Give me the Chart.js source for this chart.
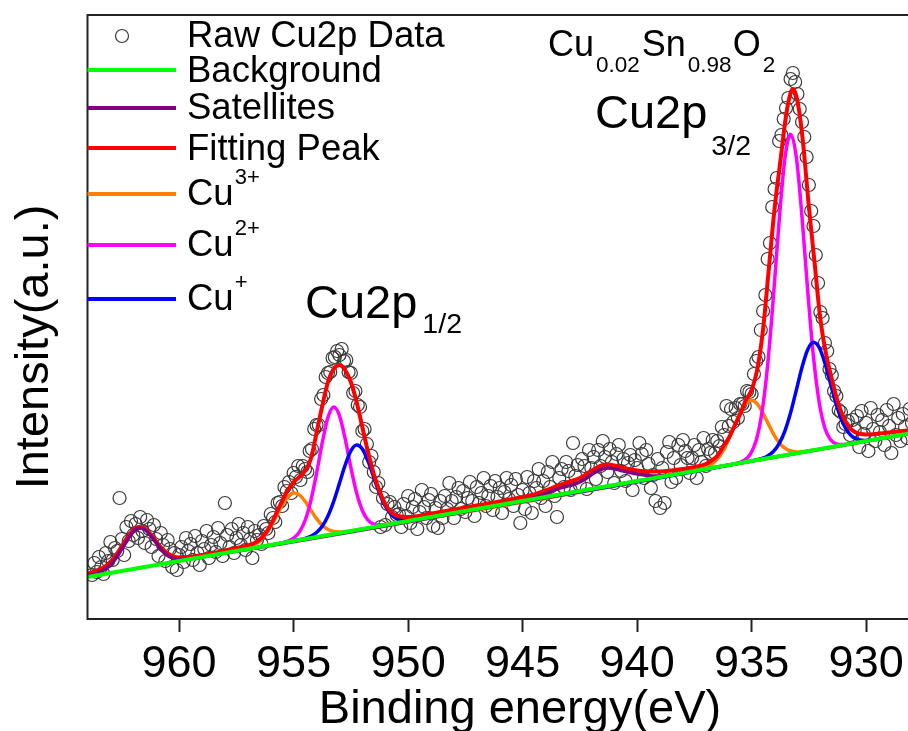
<!DOCTYPE html>
<html>
<head>
<meta charset="utf-8">
<script src="https://cdn.jsdelivr.net/npm/chart.js@4.4.1/dist/chart.umd.min.js"></script>
<style>
  html, body { margin: 0; padding: 0; background: #fff; overflow: hidden; }
  #wrap { width: 908px; height: 731px; overflow: hidden; }
  canvas { display: block; }
</style>
</head>
<body>
<div id="wrap"><canvas id="xps" width="940" height="731"></canvas></div>
<script>
// ===============================
// DATA (binding energy in eV, intensity in a.u.)
// ===============================
const bgEnergy = [964, 927.5];
const bgCounts = [42, 188];

const satEnergy = [964, 963.75, 963.5, 963.25, 963, 962.75, 962.5, 962.25, 962, 961.75, 961.5, 961.25, 961, 960.75, 960.5, 960.25, 960, 959.75, 959.5, 959,
  945.25, 945, 944.75, 944.5, 944.25, 944, 943.75, 943.5, 943.25, 943, 942.75, 942.5, 942.25, 942, 941.75, 941.5, 941.25, 941, 940.75, 940.5,
  940.25, 940, 939.75, 939.5, 939.25, 939, 938.75, 938.5, 938, 927.5];
const satCounts = [43, 44.5, 46.5, 49.5, 54, 61, 70, 79.5, 87.5, 91, 89.5, 83.5, 76, 68.5, 63.5, 60.5, 59.5, 59.5, 60.2, 62,
  117, 118.2, 119.5, 121.1, 123, 125.3, 127.7, 129.8, 131.6, 133.1, 134.7, 137.1, 140.3, 144.3, 147.9, 150.3, 151, 150.3, 148.8, 147.4,
  146.1, 145.1, 144.2, 143.5, 143, 143.1, 143.5, 144.2, 146, 188];

const fitEnergy = [964, 963.75, 963.5, 963.25, 963, 962.75, 962.5, 962.25, 962, 961.75, 961.5, 961.25, 961, 960.75, 960.5, 960.25, 960, 959.5, 959, 958.5,
  958, 957.5, 957, 956.75, 956.5, 956.25, 956, 955.75, 955.5, 955.25, 955, 954.75, 954.5, 954.25, 954, 953.75, 953.5, 953.25, 953, 952.75,
  952.5, 952.25, 952, 951.75, 951.5, 951.25, 951, 950.75, 950.5, 950, 949, 948, 947, 946, 945, 944.5, 944, 943.5, 943, 942.5,
  942, 941.75, 941.5, 941.25, 941, 940.5, 940, 939.5, 939, 938.5, 938, 937.5, 937, 936.75, 936.5, 936.25, 936, 935.75, 935.5, 935.25,
  935, 934.75, 934.5, 934.25, 934, 933.75, 933.5, 933.3, 933.2, 933.05, 932.9, 932.75, 932.5, 932.25, 932, 931.75, 931.5, 931.25, 931, 930.75,
  930.5, 930, 929, 928, 927.5];
const fitCounts = [45, 47, 49, 52, 57, 64, 73, 82, 89, 92, 90.5, 85, 77.5, 70.5, 65.5, 62.5, 61.5, 62, 64, 66,
  68.5, 71, 73.5, 75.5, 79, 85, 94, 106, 118, 129, 137, 142, 148, 160, 186, 213, 237, 250, 254, 249,
  237, 217, 192, 167, 145, 128, 115, 107, 103.5, 102, 105.5, 109.5, 113.5, 117.5, 122, 124.5, 128.5, 133, 137, 141,
  148, 151.5, 154, 154.5, 153.5, 150.5, 148.5, 147.5, 147.5, 148.5, 150, 152, 155, 158.5, 163, 172, 181, 193, 205, 219,
  229, 250, 290, 350, 410, 457, 503, 526, 530, 523, 504, 475, 412, 356, 300, 265, 240, 218, 202, 192,
  187, 184.5, 186.5, 189, 190.5];

const cu3Energy = [957.75, 957.5, 957.25, 957, 956.75, 956.5, 956.25, 956, 955.75, 955.5, 955.25, 955, 954.75, 954.5, 954.25, 954, 953.75, 953.5, 953.25, 953, 952.75, 952.5, 952.25,
  937.55, 937.3, 937.05, 936.8, 936.55, 936.3, 936.05, 935.8, 935.55, 935.3, 935.05, 934.8, 934.55, 934.3, 934.05, 933.8, 933.55, 933.3, 933.05, 932.8, 932.55, 932.3];
const cu3Counts = [67, 68.1, 69.4, 71, 73.5, 77.5, 83.7, 92.4, 103, 113.8, 122.2, 126, 124.2, 117.8, 109, 100.4, 93.7, 89.5, 87.5, 87, 87.4, 88.1, 89,
  148, 149.3, 151.1, 154, 158.8, 166.4, 177.2, 190.4, 203.8, 214.3, 218.8, 216.3, 207.8, 196.4, 185.2, 176.4, 170.8, 168, 167.1, 167.3, 168, 168.8];

const cu2Energy = [956, 955.75, 955.5, 955.25, 955, 954.75, 954.5, 954.25, 954, 953.75, 953.5, 953.25, 953, 952.75, 952.5, 952.25, 952, 951.75, 951.5, 951.25, 951, 950.75, 950.5,
  936.05, 935.8, 935.55, 935.3, 935.05, 934.8, 934.55, 934.3, 934.05, 933.8, 933.55, 933.3, 933.05, 932.8, 932.55, 932.3, 932.05, 931.8, 931.55, 931.3, 931.05, 930.8, 930.55];
const cu2Counts = [74, 75.1, 76.3, 77.9, 80.9, 86.9, 98.5, 118.1, 145.5, 176.3, 201.6, 212, 203.6, 180.3, 151.5, 126.1, 108.5, 98.9, 94.9, 93.9, 94.3, 95.1, 96,
  153.8, 154.9, 156.4, 159.1, 165.2, 178.8, 206.5, 254.2, 321.8, 398, 460.1, 484.8, 462.1, 402, 327.8, 262.2, 216.5, 190.8, 179.2, 175.1, 174.4, 174.9, 175.8];

const cu1Energy = [955, 954.75, 954.5, 954.25, 954, 953.75, 953.5, 953.25, 953, 952.75, 952.5, 952.25, 952, 951.75, 951.5, 951.25, 951, 950.75, 950.5, 950.25, 950, 949.75, 949.5,
  935.05, 934.8, 934.55, 934.3, 934.05, 933.8, 933.55, 933.3, 933.05, 932.8, 932.55, 932.3, 932.05, 931.8, 931.55, 931.3, 931.05, 930.8, 930.55, 930.3, 930.05, 929.8, 929.55];
const cu1Counts = [78.1, 79.2, 80.7, 82.8, 86.5, 92.8, 103, 117.6, 135.6, 153.9, 168.1, 174, 170.1, 157.9, 141.6, 125.6, 113, 104.8, 100.5, 98.8, 98.7, 99.2, 100.1,
  157.9, 159.1, 160.6, 163.1, 167.5, 175.3, 187.9, 206.2, 228.8, 251.8, 269.5, 276.8, 271.5, 255.8, 234.8, 214.2, 197.9, 187.3, 181.5, 179.1, 178.6, 179.1, 179.9];

// raw scan: 963.8 eV down to 928.0 eV, 0.1 eV per point
const rawStart = 963.8;
const rawStep = 0.1;
const rawCounts = [
  44, 56, 47, 62, 52, 45, 66, 58, 77, 59, 71, 68, 121, 80, 64, 92, 78, 98, 84, 95, 81, 102, 88, 76, 99, 90, 72, 94, 80, 63, 86, 74, 58, 79, 70, 52, 66, 49, 64, 72, 57, 81, 68,
  75, 59, 83, 66, 54, 78, 70, 88, 61, 74, 82, 67, 91, 76, 63, 116, 84, 72, 90, 66, 81, 95, 74, 86, 69, 92, 80, 61, 88, 79,
  84, 75, 93, 90, 86, 105, 101, 97, 116, 117, 113, 132, 128, 137, 126, 146, 142, 153, 139, 153, 150, 147, 168, 170, 190, 194, 194, 220, 224, 242,
  246, 247, 261, 262, 268, 264, 270, 258, 259, 247, 246, 226, 228, 214, 212, 188, 190, 175, 157, 163, 147, 132, 136, 92, 121, 94, 115, 117, 102, 112, 104,
  105, 92, 115, 103, 123, 96, 112, 120, 90, 107, 129, 112, 101, 119, 125, 93, 111, 91, 118, 101, 123, 110, 136, 118, 101, 122, 131,
  110, 128, 107, 121, 137, 118, 103, 132, 116, 126, 141, 113, 123, 133, 109, 138, 122, 131, 106, 127, 141, 120, 134, 113, 140, 124, 96,
  129, 110, 142, 126, 106, 138, 131, 150, 121, 138, 113, 147, 132, 157, 123, 102, 141, 150, 132, 157, 148, 129, 176, 143, 154, 134, 160, 153, 130, 169, 151, 162, 140,
  169, 153, 178, 162, 147, 170, 157, 136, 165, 174, 148, 160, 138, 156, 164, 129, 159, 151, 176, 165, 141, 169, 155, 131, 144, 118, 160, 111, 151, 116, 167, 177, 137,
  161, 141, 174, 154, 179, 168, 161, 146, 161, 174, 141, 169, 157, 181, 153, 170, 166, 179, 166,
  178, 173, 192, 184, 213, 193, 210, 197, 211, 201, 215, 215, 213, 228, 227, 225,
  245, 258, 262, 289, 308, 324, 360, 376, 412, 430, 441, 478, 484, 500, 511, 521,
  540, 546, 537, 525,
  510, 497, 482, 462, 434, 408, 393, 364, 336, 307, 301, 276, 268, 250, 244, 228, 223, 209, 207, 192, 195, 198, 184, 199, 189,
  203, 172, 208, 185, 196, 168, 211, 190, 178, 204, 187, 199, 174, 209, 193, 166, 215, 184, 201, 178, 205, 192, 181, 210, 196
];

const FONT = "'Liberation Sans', Arial, Helvetica, sans-serif";

const pairs = (xs, ys) => xs.map((x, i) => ({ x, y: ys[i] }));

const curve = (label, xs, ys, color, width, order, sup) => ({
  label,
  sup,
  data: pairs(xs, ys),
  showLine: true,
  borderColor: color,
  backgroundColor: color,
  borderWidth: width,
  pointRadius: 0,
  pointHoverRadius: 0,
  cubicInterpolationMode: "monotone",
  fill: false,
  order
});

const rawPoints = rawCounts.map((y, i) => ({ x: +(rawStart - i * rawStep).toFixed(1), y }));

// legend order = dataset order; "order" only sets what is painted on top
const datasets = [
  {
    label: "Raw Cu2p Data",
    data: rawPoints,
    showLine: false,
    pointStyle: "circle",
    pointRadius: 6.5,
    pointHoverRadius: 6.5,
    pointBorderWidth: 1.2,
    pointBorderColor: "#3a3a3a",
    pointBackgroundColor: "rgba(255,255,255,0)",
    order: 6
  },
  curve("Background", bgEnergy, bgCounts, "#00ff00", 4, 0),
  curve("Satellites", satEnergy, satCounts, "#800080", 3.5, 1),
  curve("Fitting Peak", fitEnergy, fitCounts, "#ff0000", 4, 2),
  curve("Cu", cu3Energy, cu3Counts, "#ff8000", 3.5, 5, "3+"),
  curve("Cu", cu2Energy, cu2Counts, "#ff00ff", 3.5, 4, "2+"),
  curve("Cu", cu1Energy, cu1Counts, "#0000ff", 3.5, 3, "+")
];

// ===============================
// TEXT HELPERS
// ===============================
function drawRuns(ctx, x, y, runs) {
  runs.forEach(([text, size, dy, gap]) => {
    ctx.font = `${size}px ${FONT}`;
    ctx.fillText(text, x, y + dy);
    x += ctx.measureText(text).width + (gap || 0);
  });
}

// frame, axis titles, labels, legend
const decorations = {
  id: "decorations",
  afterDraw(chart) {
    const { ctx, chartArea: a } = chart;
    ctx.save();

    // frame (right side falls outside the visible page)
    ctx.strokeStyle = "#222";
    ctx.lineWidth = 2;
    ctx.strokeRect(a.left, a.top, a.right - a.left, a.bottom - a.top);

    ctx.fillStyle = "#000";
    ctx.textAlign = "left";
    ctx.textBaseline = "alphabetic";

    // x title
    ctx.font = `47px ${FONT}`;
    ctx.textAlign = "center";
    ctx.fillText("Binding energy(eV)", 520, 723);

    // y title
    ctx.save();
    ctx.translate(48, 347);
    ctx.rotate(-Math.PI / 2);
    ctx.fillText("Intensity(a.u.)", 0, 0);
    ctx.restore();

    ctx.textAlign = "left";

    // sample formula and peak labels
    drawRuns(ctx, 548, 56, [["Cu", 36, 0, 2], ["0.02", 22.5, 16, 2], ["Sn", 36, 0, 2], ["0.98", 22.5, 16, 1], ["O", 36, 0, 2], ["2", 22.5, 16]]);
    drawRuns(ctx, 595, 128, [["Cu2p", 47, 0, 4], ["3/2", 28.5, 27]]);
    drawRuns(ctx, 305, 318, [["Cu2p", 47, 0, 5], ["1/2", 28.5, 15]]);

    // legend
    const rows = [
      { y: 36, base: 47 },
      { y: 70, base: 82 },
      { y: 108, base: 119 },
      { y: 148, base: 160 },
      { y: 194, base: 205 },
      { y: 245, base: 256 },
      { y: 299, base: 310 }
    ];
    chart.data.datasets.forEach((ds, i) => {
      const r = rows[i];
      if (ds.showLine) {
        ctx.strokeStyle = ds.borderColor;
        ctx.lineWidth = 4;
        ctx.beginPath();
        ctx.moveTo(a.left, r.y);
        ctx.lineTo(176, r.y);
        ctx.stroke();
      } else {
        ctx.strokeStyle = ds.pointBorderColor;
        ctx.lineWidth = ds.pointBorderWidth;
        ctx.beginPath();
        ctx.arc(122, r.y, ds.pointRadius, 0, Math.PI * 2);
        ctx.stroke();
      }
      const runs = [[ds.label, 36.5, 0, 1]];
      if (ds.sup) runs.push([ds.sup, 22, -21]);
      drawRuns(ctx, 187, r.base, runs);
    });

    ctx.restore();
  }
};

new Chart(document.getElementById("xps"), {
  type: "scatter",
  data: { datasets },
  options: {
    responsive: false,
    animation: false,
    devicePixelRatio: 1,
    layout: { padding: { top: 15, left: 87.5, right: 16.6, bottom: 0 } },
    plugins: {
      legend: { display: false },
      tooltip: { enabled: false }
    },
    scales: {
      x: {
        type: "linear",
        reverse: true,
        min: 927.5,
        max: 964,
        afterFit: s => { s.height = 112; },
        border: { display: false },
        grid: {
          drawOnChartArea: false,
          drawTicks: true,
          tickLength: 13,
          tickWidth: 2,
          tickColor: "#222"
        },
        ticks: {
          stepSize: 5,
          includeBounds: false,
          maxRotation: 0,
          autoSkip: false,
          padding: 6,
          color: "#000",
          font: { family: FONT, size: 45 }
        }
      },
      y: {
        display: false,
        min: 0,
        max: 604
      }
    }
  },
  plugins: [decorations]
});
</script>
</body>
</html>
